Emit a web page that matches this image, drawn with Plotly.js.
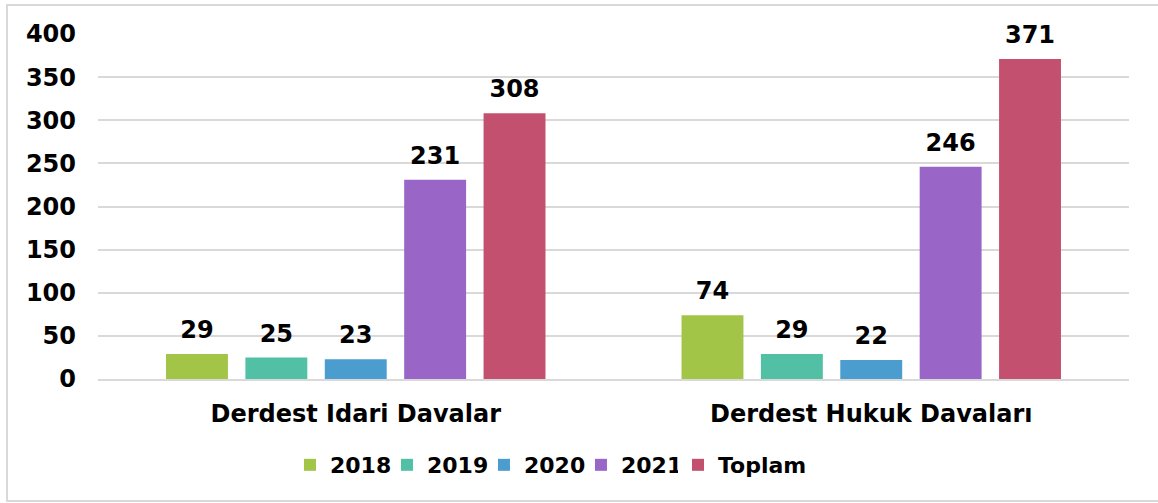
<!DOCTYPE html>
<html>
<head>
<meta charset="utf-8">
<script src="https://cdn.plot.ly/plotly-3.0.1.min.js"></script>
<style>
  html, body { margin: 0; padding: 0; background: #ffffff; }
  #wrap { position: relative; width: 1158px; height: 503px; overflow: hidden; }
  #frame { position: absolute; left: 6px; top: 4px; width: 1160px; height: 498px; border: 2px solid #D9D9D9; box-sizing: border-box; }
  #chart { position: absolute; left: 0; top: 0; width: 1158px; height: 503px; }
</style>
</head>
<body>
<div id="wrap">
  <div id="frame"></div>
  <div id="chart"></div>
</div>
<script>
const categories = ["Derdest Idari Davalar", "Derdest Hukuk Davaları"];
const seriesNames = ["2018", "2019", "2020", "2021", "Toplam"];
const values2018 = [29, 74];
const values2019 = [25, 29];
const values2020 = [23, 22];
const values2021 = [231, 246];
const valuesToplam = [308, 371];
const tickValues = [0, 50, 100, 150, 200, 250, 300, 350, 400];

const seriesValues = [values2018, values2019, values2020, values2021, valuesToplam];
const colors = ["#A2C547", "#52C0A5", "#4A9DCE", "#9966C8", "#C4506F"];

const fontFamily = "DejaVu Sans, Verdana, sans-serif";
const labelGap = 8; // visual spacing above bars for value labels (axis units)

const traces = [];
seriesNames.forEach((name, i) => {
  traces.push({
    type: "bar",
    name: name,
    x: categories,
    y: seriesValues[i],
    offsetgroup: name,
    legend: i === seriesNames.length - 1 ? "legend2" : "legend",
    marker: { color: colors[i] },
    hovertemplate: "%{x}<br>" + name + ": %{y}<extra></extra>"
  });
});
seriesNames.forEach((name, i) => {
  traces.push({
    type: "bar",
    name: name + " label",
    x: categories,
    base: seriesValues[i],
    y: seriesValues[i].map(() => labelGap),
    offsetgroup: name,
    marker: { color: "rgba(0,0,0,0)" },
    text: seriesValues[i].map(String),
    textposition: "outside",
    textfont: { family: fontFamily, size: 24, color: "#000000", weight: "bold" },
    cliponaxis: false,
    showlegend: false,
    hoverinfo: "skip"
  });
});

const legendFont = { family: fontFamily, size: 22, color: "#000000", weight: "bold" };

const layout = {
  width: 1158,
  height: 503,
  paper_bgcolor: "rgba(0,0,0,0)",
  plot_bgcolor: "rgba(0,0,0,0)",
  margin: { l: 98, r: 29, t: 34, b: 124 },
  barmode: "group",
  bargap: 0.23,
  bargroupgap: 0.22,
  font: { family: fontFamily, size: 22, color: "#000000", weight: "bold" },
  xaxis: {
    type: "category",
    showgrid: false,
    showline: true,
    linecolor: "#D9D9D9",
    linewidth: 2,
    ticks: "",
    ticklabelstandoff: 12,
    tickfont: { family: fontFamily, size: 24, color: "#000000", weight: "bold" },
    automargin: false,
    fixedrange: true
  },
  yaxis: {
    range: [0, 400],
    tickvals: tickValues,
    ticktext: tickValues.map(String),
    showgrid: true,
    gridcolor: "#D9D9D9",
    gridwidth: 2,
    zeroline: false,
    showline: false,
    ticks: "",
    ticklabelstandoff: 21,
    tickfont: { family: fontFamily, size: 24, color: "#000000", weight: "bold" },
    automargin: false,
    fixedrange: true
  },
  legend: {
    orientation: "h",
    xref: "container",
    yref: "container",
    x: 0.2504,
    xanchor: "left",
    y: 0.0755,
    yanchor: "middle",
    font: legendFont,
    itemwidth: 30,
    entrywidth: 52,
    entrywidthmode: "pixels",
    traceorder: "normal"
  },
  legend2: {
    orientation: "h",
    xref: "container",
    yref: "container",
    x: 0.5855,
    xanchor: "left",
    y: 0.0755,
    yanchor: "middle",
    font: legendFont,
    itemwidth: 30
  },
  showlegend: true
};

Plotly.newPlot("chart", traces, layout, { displayModeBar: false });
</script>
</body>
</html>
